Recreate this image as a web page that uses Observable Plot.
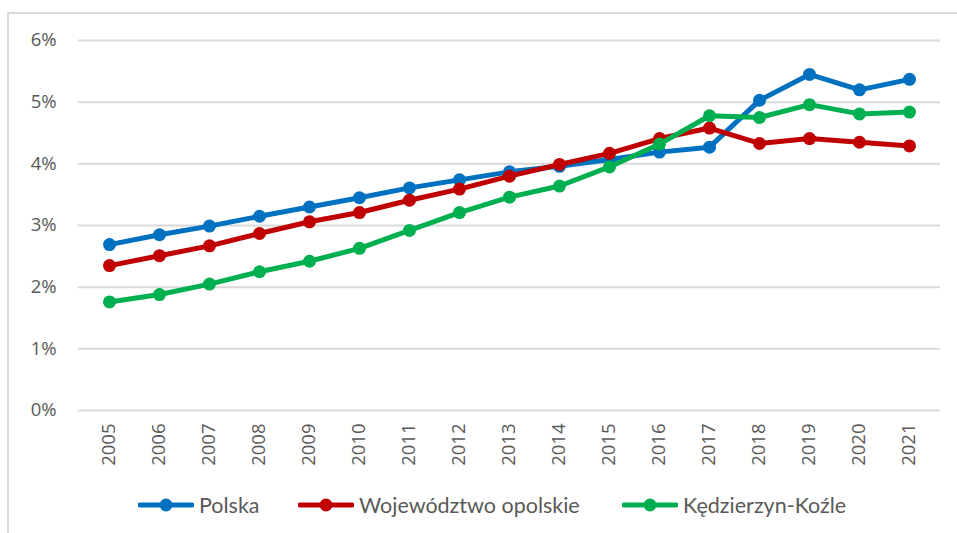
<!DOCTYPE html>
<html>
<head>
<meta charset="utf-8">
<script src="https://cdn.jsdelivr.net/npm/d3@7"></script>
<script src="https://cdn.jsdelivr.net/npm/@observablehq/plot@0.6"></script>
<style>
  html, body { margin: 0; padding: 0; background: #fff; }
  body { width: 957px; height: 533px; position: relative; overflow: hidden; font-family: Lato, sans-serif; }
  #frame { position: absolute; left: 7px; top: 12px; width: 960px; height: 540px; border-left: 2px solid #d9d9d9; border-top: 2px solid #d9d9d9; }
  #chart { position: absolute; left: 0; top: 0; }
  #legend { position: absolute; left: 0; top: 492px; width: 957px; height: 26px; font-size: 21.5px; color: #595959; }
  .item { position: absolute; top: 0; display: flex; align-items: center; height: 26px; }
  .item svg { margin-right: 5px; }
</style>
</head>
<body>
<div id="frame"></div>
<div id="chart"></div>
<div id="legend"></div>
<script>
const years = ["2005","2006","2007","2008","2009","2010","2011","2012","2013","2014","2015","2016","2017","2018","2019","2020","2021"];
const polska = [2.69,2.85,2.99,3.15,3.30,3.45,3.61,3.74,3.87,3.96,4.07,4.19,4.27,5.03,5.45,5.20,5.37];
const wojewodztwo = [2.35,2.51,2.67,2.87,3.06,3.21,3.41,3.59,3.80,3.99,4.17,4.41,4.58,4.33,4.41,4.35,4.29];
const kedzierzyn = [1.76,1.88,2.05,2.25,2.42,2.63,2.92,3.21,3.46,3.64,3.95,4.32,4.78,4.75,4.96,4.81,4.84];
const seriesNames = ["Polska","Województwo opolskie","Kędzierzyn-Koźle"];
const seriesColors = ["#0070C0","#C00000","#00B050"];
const yTicks = [0,1,2,3,4,5,6];

const seriesValues = [polska, wojewodztwo, kedzierzyn];
const rows = seriesValues.map((vals, i) => years.map((y, j) => ({year: y, value: vals[j], series: seriesNames[i]})));

const marks = [
  Plot.gridY(yTicks, {stroke: "#d9d9d9", strokeOpacity: 1, strokeWidth: 2}),
  Plot.axisY(yTicks, {tickSize: 0, tickPadding: 22, tickFormat: d => d + "%", fill: "#595959"}),
  Plot.axisX({tickSize: 0, tickPadding: 13, tickRotate: -90, fill: "#595959"})
];
rows.forEach((data, i) => {
  marks.push(Plot.line(data, {x: "year", y: "value", stroke: seriesColors[i], strokeWidth: 5}));
  marks.push(Plot.dot(data, {x: "year", y: "value", fill: seriesColors[i], r: 6.5}));
});

const chart = Plot.plot({
  width: 957,
  height: 480,
  marginLeft: 78,
  marginRight: 17,
  marginTop: 40,
  marginBottom: 70,
  style: {fontFamily: "'Open Sans', sans-serif", background: "transparent", overflow: "visible"},
  x: {type: "point", domain: years, padding: 0.5, label: null},
  y: {domain: [0, 6], label: null},
  marks
});
d3.select(chart).selectAll("g").filter(function() { return this.getAttribute("font-size") != null; }).attr("font-size", null);
d3.select(chart).selectAll("text").style("font-size", "18.5px").style("font-family", "'Open Sans', sans-serif");
document.getElementById("chart").appendChild(chart);

const legend = document.getElementById("legend");
const legendX = [138, 298, 622];
seriesNames.forEach((name, i) => {
  const item = document.createElement("div");
  item.className = "item";
  item.style.left = legendX[i] + "px";
  item.innerHTML = `<svg width="56" height="16"><line x1="2" y1="8" x2="54" y2="8" stroke="${seriesColors[i]}" stroke-width="5" stroke-linecap="round"/><circle cx="28" cy="8" r="6.5" fill="${seriesColors[i]}"/></svg><span>${name}</span>`;
  legend.appendChild(item);
});
</script>
</body>
</html>
